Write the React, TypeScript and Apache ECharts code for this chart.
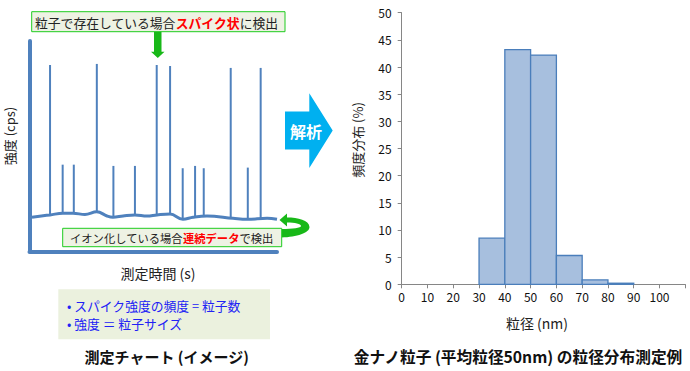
import React, { useEffect, useRef } from "react";
import * as echarts from "echarts";

// Left illustration: spikes (time in arbitrary 0-100 units, intensity 0-100)
const spikeTime = [8.3, 13.4, 17.9, 27.2, 33.9, 42.6, 51.4, 56.8, 61.9, 66.9, 70.4, 81.3, 88.2, 93.4];
const spikeTop = [88.6, 41.2, 41.2, 89.1, 40.6, 40.6, 88.6, 88.1, 39.5, 40.6, 39.5, 87.2, 39.8, 87.2];
const spikeBase = [17.3, 18.1, 18.1, 18.8, 16.2, 17.3, 17.3, 17.7, 15.2, 16.2, 16.8, 15.7, 15.2, 15.7];

// Left illustration: continuous (ion) baseline
const baseTime = [1.0, 5.5, 8.3, 13.5, 17.6, 22.4, 27.2, 31.3, 33.7, 37.8, 42.6, 47.5, 51.5, 56.8, 62.0, 66.1, 71.7, 82.2, 87.9, 96.0, 100];
const baseLevel = [16.2, 16.9, 17.3, 18.1, 18.1, 17.5, 18.8, 16.8, 16.2, 16.8, 17.3, 16.8, 17.3, 17.7, 15.2, 16.2, 16.8, 15.7, 15.2, 15.7, 15.2];

// Right chart: particle size histogram
const binStart = [30, 40, 50, 60, 70, 80];
const binWidth = 10;
const binFreq = [8.5, 43.2, 42.2, 5.3, 0.8, 0.2];
const xTicks = [0, 10, 20, 30, 40, 50, 60, 70, 80, 90, 100];

const FONT = '"Noto Sans CJK JP", "Noto Sans", sans-serif';
const BLUE = "#4F81BD";

export default function App() {
  const ref = useRef<HTMLDivElement>(null);
  useEffect(() => {
    if (!ref.current) return;
    echarts.graphic.registerShape(
      "curvedArrow",
      echarts.graphic.extendPath(
        "M279.5 220 L287 213.5 L287 217.5 C298 217.5 309 220 309.5 227 C309.5 233 297 237 281.5 237.5 L281.5 229 C293 229 301 228 301 226 C301 224 295 222.5 287 222.5 L287 226.5 Z",
        {}
      ) as any
    );
    const chart = echarts.init(ref.current, null, { renderer: "svg" });
    const spikeData = spikeTime.map((t, i) => [t, spikeBase[i], spikeTop[i]]);
    const baseData = baseTime.map((t, i) => [t, baseLevel[i]]);
    const binData = binStart.map((s, i) => [s, s + binWidth, binFreq[i]]);

    const option: any = {
      animation: false,
      grid: [
        { left: 29.5, top: 41, width: 247.5, height: 210.3 },
        { left: 401.7, top: 12.7, width: 283.6, height: 271.6 },
      ],
      xAxis: [
        {
          gridIndex: 0, type: "value", min: 0, max: 100,
          axisLine: { show: true, lineStyle: { color: BLUE, width: 4 } },
          axisTick: { show: false }, axisLabel: { show: false }, splitLine: { show: false },
        },
        {
          gridIndex: 1, type: "value", min: 0, max: 110, interval: 10,
          axisLine: { show: true, lineStyle: { color: "#868686", width: 1 } },
          axisTick: { show: true, length: 4, lineStyle: { color: "#868686" } },
          axisLabel: {
            color: "#111", fontSize: 12, fontFamily: FONT, margin: 6,
            formatter: (v: number) => (xTicks.indexOf(v) >= 0 ? String(v) : ""),
          },
          splitLine: { show: false },
        },
      ],
      yAxis: [
        {
          gridIndex: 0, type: "value", min: 0, max: 100,
          axisLine: { show: true, lineStyle: { color: BLUE, width: 4 } },
          axisTick: { show: false }, axisLabel: { show: false }, splitLine: { show: false },
        },
        {
          gridIndex: 1, type: "value", min: 0, max: 50, interval: 5,
          axisLine: { show: true, lineStyle: { color: "#868686", width: 1 } },
          axisTick: { show: true, length: 4, lineStyle: { color: "#868686" } },
          axisLabel: { color: "#111", fontSize: 12, fontFamily: FONT, margin: 10 },
          splitLine: { show: false },
        },
      ],
      series: [
        {
          type: "custom", xAxisIndex: 0, yAxisIndex: 0, data: spikeData,
          encode: { x: 0, y: [1, 2] },
          renderItem: (params: any, api: any) => {
            const p0 = api.coord([api.value(0), api.value(1)]);
            const p1 = api.coord([api.value(0), api.value(2)]);
            return {
              type: "line",
              shape: { x1: p0[0], y1: p0[1], x2: p1[0], y2: p1[1] },
              style: { stroke: BLUE, lineWidth: 2 },
            };
          },
        },
        {
          type: "line", xAxisIndex: 0, yAxisIndex: 0, data: baseData,
          smooth: 0.4, symbol: "none",
          lineStyle: { color: BLUE, width: 3 },
        },
        {
          type: "custom", xAxisIndex: 1, yAxisIndex: 1, data: binData,
          encode: { x: [0, 1], y: 2 },
          renderItem: (params: any, api: any) => {
            const p0 = api.coord([api.value(0), api.value(2)]);
            const p1 = api.coord([api.value(1), 0]);
            return {
              type: "rect",
              shape: { x: p0[0], y: p0[1], width: p1[0] - p0[0], height: p1[1] - p0[1] },
              style: { fill: "#A7BFDE", stroke: "#4A7EBB", lineWidth: 1.3 },
            };
          },
        },
      ],
      graphic: [
        // top annotation box
        {
          type: "rect", z: 10,
          shape: { x: 31.7, y: 11.7, width: 253.3, height: 20 },
          style: { fill: "#EEF2E4", stroke: "#1FCC1F", lineWidth: 1 },
        },
        {
          type: "text", z: 11, x: 35, y: 22,
          style: {
            text: "{a|粒子で存在している場合}{b|スパイク状}{a|に検出}",
            verticalAlign: "middle", align: "left",
            rich: {
              a: { fontSize: 12.8, fontFamily: FONT, fill: "#222" },
              b: { fontSize: 12.8, fontFamily: FONT, fill: "#FF0000", fontWeight: "bold" },
            },
          },
        },
        // green down arrow
        {
          type: "polygon", z: 10,
          shape: { points: [[154, 31.7], [161.5, 31.7], [161.5, 51.7], [164.5, 51.7], [157.8, 58], [151, 51.7], [154, 51.7]] },
          style: { fill: "#18B818" },
        },
        // bottom annotation box
        {
          type: "rect", z: 10,
          shape: { x: 62.7, y: 228.3, width: 219, height: 18.4 },
          style: { fill: "#EEF2E4", stroke: "#1FCC1F", lineWidth: 1 },
        },
        {
          type: "text", z: 11, x: 70, y: 237.8,
          style: {
            text: "{a|イオン化している場合}{b|連続データ}{a|で検出}",
            verticalAlign: "middle", align: "left",
            rich: {
              a: { fontSize: 11.3, fontFamily: FONT, fill: "#222" },
              b: { fontSize: 11.3, fontFamily: FONT, fill: "#FF0000", fontWeight: "bold" },
            },
          },
        },
        // curved arrow
        { type: "curvedArrow", z: 9, x: 0, y: 0, style: { fill: "#18B818" } },
        // left axis names
        {
          type: "text", z: 10, x: 9, y: 136, rotation: Math.PI / 2,
          style: { text: "強度 (cps)", fontSize: 13, fontFamily: FONT, fill: "#222", align: "center", verticalAlign: "middle" },
        },
        {
          type: "text", z: 10, x: 158, y: 272.7,
          style: { text: "測定時間 (s)", fontSize: 14, fontFamily: FONT, fill: "#222", align: "center", verticalAlign: "middle" },
        },
        // info box
        {
          type: "rect", z: 10,
          shape: { x: 58.3, y: 289.3, width: 211.7, height: 50 },
          style: { fill: "#EBF1DE" },
        },
        {
          type: "text", z: 11, x: 67, y: 305,
          style: { text: "• スパイク強度の頻度 = 粒子数", fontSize: 12.8, fontFamily: FONT, fill: "#2121F5", align: "left", verticalAlign: "middle" },
        },
        {
          type: "text", z: 11, x: 67, y: 323.5,
          style: { text: "• 強度 ＝ 粒子サイズ", fontSize: 12.8, fontFamily: FONT, fill: "#2121F5", align: "left", verticalAlign: "middle" },
        },
        {
          type: "text", z: 10, x: 166.7, y: 356.7,
          style: { text: "測定チャート (イメージ)", fontSize: 15, fontWeight: "bold", fontFamily: FONT, fill: "#111", align: "center", verticalAlign: "middle" },
        },
        // analysis arrow
        {
          type: "polygon", z: 10,
          shape: { points: [[285, 111.5], [309.3, 111.5], [309.3, 93.3], [332.7, 130.5], [309.3, 168], [309.3, 149.5], [285, 149.5]] },
          style: { fill: "#00B0F0" },
        },
        {
          type: "text", z: 11, x: 306, y: 131,
          style: { text: "解析", fontSize: 16, fontWeight: "bold", fontFamily: FONT, fill: "#FFFFFF", align: "center", verticalAlign: "middle" },
        },
        // right chart names
        {
          type: "text", z: 10, x: 357, y: 140, rotation: Math.PI / 2,
          style: { text: "頻度分布 (%)", fontSize: 13, fontFamily: FONT, fill: "#222", align: "center", verticalAlign: "middle" },
        },
        {
          type: "text", z: 10, x: 537, y: 323,
          style: { text: "粒径 (nm)", fontSize: 14, fontFamily: FONT, fill: "#222", align: "center", verticalAlign: "middle" },
        },
        {
          type: "text", z: 10, x: 518, y: 356.7,
          style: { text: "金ナノ粒子 (平均粒径50nm) の粒径分布測定例", fontSize: 15.7, fontWeight: "bold", fontFamily: FONT, fill: "#111", align: "center", verticalAlign: "middle" },
        },
      ],
    };
    chart.setOption(option);
    return () => chart.dispose();
  }, []);
  return (
    <div
      ref={ref}
      style={{ position: "fixed", left: 0, top: 0, width: 690, height: 371, background: "#fff" }}
    />
  );
}
